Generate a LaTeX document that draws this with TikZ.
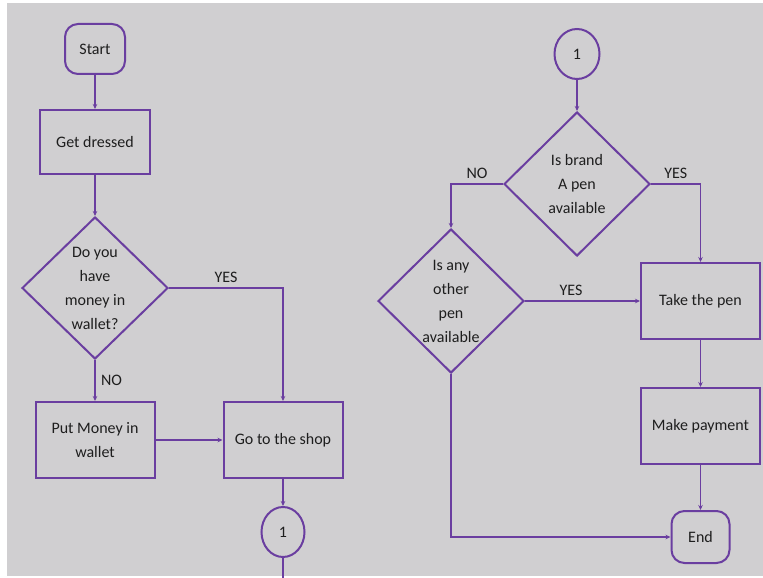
\documentclass[tikz,border=0pt]{standalone}
\usepackage{fontspec}
\setmainfont{Carlito}
\usetikzlibrary{positioning,shapes.geometric,arrows.meta}
\definecolor{bggray}{RGB}{208,207,209}
\definecolor{flowpurple}{RGB}{106,62,160}
\definecolor{inkgray}{RGB}{30,30,30}

\begin{document}
\begin{tikzpicture}[
    x=1pt, y=1pt,
    every node/.style={font=\fontsize{16}{24}\selectfont, text=inkgray},
    proc/.style={draw=flowpurple, line width=2pt, fill=bggray, rectangle,
      minimum width=119pt, minimum height=76pt, align=center, inner sep=2pt},
    decision/.style={draw=flowpurple, line width=2pt, fill=bggray, diamond,
      minimum width=146pt, minimum height=144pt, align=center, inner sep=-30pt},
    term/.style={draw=flowpurple, line width=2pt, fill=bggray, rectangle,
      rounded corners=13pt, minimum width=60pt, minimum height=50pt},
    conn/.style={draw=flowpurple, line width=2pt, fill=bggray, ellipse,
      minimum width=44pt, minimum height=50pt, inner sep=0pt},
    flow/.style={draw=flowpurple, line width=1.5pt, -{Stealth[length=5pt,width=4.5pt]}},
  ]
  \useasboundingbox (0,0) rectangle (763,-578);
  \fill[bggray] (7,-3) rectangle (763,-576);

  % left column : getting to the shop
  \node[term] (start) at (95,-49) {Start};
  \node[proc, minimum width=110pt, minimum height=64pt, below=34pt of start] (dressed) {Get dressed};
  \node[decision, minimum height=142pt, below=41pt of dressed] (money) {Do you\\have\\money in\\wallet?};
  \node[proc, below=41pt of money] (cash) {Put Money in\\wallet};
  \node[proc, right=67pt of cash] (shop) {Go to the shop};
  \node[conn, minimum width=43pt, below=27pt of shop] (c1_out) {1};
  \coordinate[below=27pt of c1_out] (c1_tail);    % loose end

  \draw[flow] (start) -- (dressed);
  \draw[flow] (dressed) -- (money);
  \draw[flow] (money.east) -| node[pos=0.25, above=1pt] {YES} (shop.north);
  \draw[flow] (money.south) -- node[right=2pt, pos=0.5] {NO} (cash.north);
  \draw[flow] (cash) -- (shop);
  \draw[flow] (shop) -- (c1_out);
  \draw[flow] (c1_out) -- (c1_tail);

  % right column : buying the pen
  \node[conn, minimum width=45pt] (c1_in) at (577,-54) {1};
  \node[decision, below=31pt of c1_in] (brand) {Is brand\\A pen\\available};
  \node[decision] (other) at (451,-301) {Is any\\other\\pen\\available};
  \node[proc, right=115pt of other] (take) {Take the pen};
  \node[proc, below=47pt of take] (pay) {Make payment};
  \node[term, minimum width=58pt, minimum height=52pt, below=45pt of pay] (stop) {End};

  \draw[flow] (c1_in) -- (brand);
  \draw[flow] (brand.west) -| node[pos=0.25, above=1pt] {NO} (other.north);
  \draw[flow] (brand.east) -| node[pos=0.25, above=1pt] {YES} (take.north);
  \draw[flow] (other.east) -- node[above=1pt, pos=0.4] {YES} (take.west);
  \draw[flow] (take) -- (pay);
  \draw[flow] (pay) -- (stop);
  \draw[flow] (other.south) |- (stop.west);
\end{tikzpicture}
\end{document}
